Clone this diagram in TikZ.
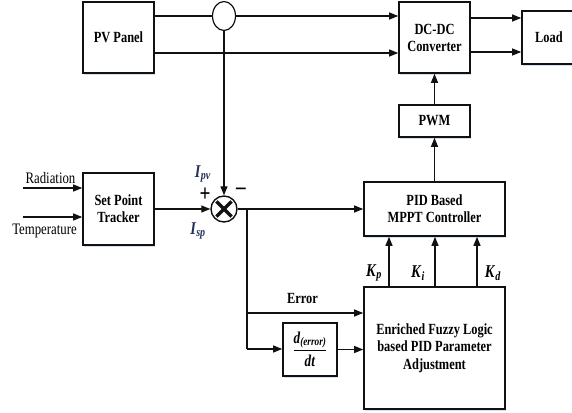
\documentclass[tikz,border=0pt]{standalone}
\usepackage{amsmath}
\usepackage{fontspec}
\setmainfont{Liberation Serif}[FakeStretch=0.8]
\definecolor{diagink}{HTML}{111111}
\definecolor{sigblue}{HTML}{26305A}
\definecolor{shadowblue}{HTML}{C9D9F0}
\usetikzlibrary{arrows.meta, shapes.geometric, shadows, calc}
\newcommand{\bsym}[2]{\textbf{\textit{#1}\textsubscript{\textit{#2}}}}
\newcommand{\derivtxt}{$\dfrac{\mbox{\bsym{d}{(error)}}}{\mbox{\textbf{\textit{dt}}}}$}
\tikzset{
  blk/.style={draw=diagink, line width=1.6pt, fill=white, align=center,
    inner sep=0pt, font=\bfseries\fontsize{15.5}{17}\selectfont,
    drop shadow={shadow xshift=1.2pt, shadow yshift=-1.6pt,
                 fill=shadowblue, opacity=0.8}},
  sig/.style={diagink, line width=1.1pt},
  arr/.style={sig, -{Triangle[length=9pt, width=7pt]}},
  lbl/.style={font=\fontsize{16}{18}\selectfont, inner sep=0pt},
  mlbl/.style={font=\fontsize{18}{20}\selectfont, inner sep=0pt},
}

\begin{document}
\begin{tikzpicture}[x=1pt, y=-1pt]
  \useasboundingbox (0,0) rectangle (572,412);

  % blocks
  \node[blk, minimum width=71pt, minimum height=71pt] (pv) at (118.5,37.5) {PV Panel};
  \node[blk, minimum width=71pt, minimum height=71pt] (dcdc) at (434.5,37.5) {DC-DC\\Converter};
  \node[blk, minimum width=54pt, minimum height=53pt] (load) at (549,37.5) {Load};
  \node[blk, minimum width=71pt, minimum height=32pt] (pwm) at (434.5,121) {PWM};
  \node[blk, minimum width=141pt, minimum height=54pt] (pid) at (434.5,209) {PID Based\\MPPT Controller};
  \node[blk, minimum width=71pt, minimum height=72pt] (spt) at (118.5,209) {Set Point\\Tracker};
  \node[blk, minimum width=54pt, minimum height=53pt, font=\fontsize{16.5}{18}\selectfont] (der) at (310,349.5) {\derivtxt};
  \node[blk, minimum width=141pt, minimum height=122pt, font=\bfseries\fontsize{15.5}{17.5}\selectfont] (enr) at (434.5,348) {Enriched Fuzzy Logic\\based PID Parameter\\Adjustment};

  % current sensor and summing point
  \node[ellipse, draw=diagink, line width=1.2pt, fill=white, inner sep=0pt,
        minimum width=23pt, minimum height=29pt] (sens) at (224,16) {};
  \node[circle, draw=diagink, line width=1.4pt, fill=white, inner sep=0pt,
        minimum size=26pt] (sum) at (224,209) {};
  \draw[diagink, line width=3.4pt, shorten >=3pt, shorten <=3pt] (sum.45) -- (sum.225);
  \draw[diagink, line width=3.4pt, shorten >=3pt, shorten <=3pt] (sum.135) -- (sum.315);

  % power path
  \coordinate (lo) at (0,53);
  \coordinate (ohi) at (0,18);
  \coordinate (olo) at (0,52);
  \draw[sig] (pv.east |- sens.west) -- (sens.west);
  \draw[arr] (sens.east) -- (dcdc.west |- sens.east);
  \draw[arr] (pv.east |- lo) -- (dcdc.west |- lo);
  \draw[arr] (dcdc.east |- ohi) -- (load.west |- ohi);
  \draw[arr] (dcdc.east |- olo) -- (load.west |- olo);
  \draw[arr] (pwm.north) -- (dcdc.south);
  \draw[arr] (pid.north) -- (pwm.south);

  % inputs of the set point tracker
  \coordinate (rad) at (23,188);
  \coordinate (tmp) at (23,217);
  \draw[arr] (rad) -- (spt.west |- rad);
  \draw[arr] (tmp) -- (spt.west |- tmp);
  \node[lbl] (radlbl) at (50.5,178) {Radiation};
  \node[lbl] (tmplbl) at (44.5,231) {Temperature};

  % error loop
  \draw[arr] (sens.south) -- (sum.north);
  \draw[arr] (spt.east) -- (sum.west);
  \draw[arr] (sum.east) -- (pid.west);
  \coordinate (br) at (247,209);
  \coordinate (brerr) at (247,313);
  \coordinate (brder) at (247,349);
  \draw[sig] (br) -- (brder);
  \draw[arr] (brerr) -- (enr.west |- brerr);
  \draw[arr] (brder) -- (der.west |- brder);
  \draw[arr] (der.east) -- (enr.west |- der.east);
  \node[lbl, font=\bfseries\fontsize{15.5}{17}\selectfont] (errlbl) at (302.5,298) {Error};

  \node[mlbl, text=sigblue] (ipv) at (203,174) {\bsym{I}{pv}};
  \node[mlbl, text=sigblue] (isp) at (198,231) {\bsym{I}{sp}};
  \node[mlbl, font=\bfseries\fontsize{24}{24}\selectfont] (plus) at (205,195) {+};
  \node[mlbl, font=\bfseries\fontsize{24}{24}\selectfont] (minus) at (241,191) {--};

  % gains
  \foreach \gx in {-45.5, 0.5, 42.5}
    \draw[arr] ([xshift=\gx pt]enr.north) -- ([xshift=\gx pt]pid.south);
  \node[mlbl] (kp) at (374,273) {\bsym{K}{p}};
  \node[mlbl] (ki) at (418,273) {\bsym{K}{i}};
  \node[mlbl] (kd) at (493,273) {\bsym{K}{d}};
\end{tikzpicture}
\end{document}
